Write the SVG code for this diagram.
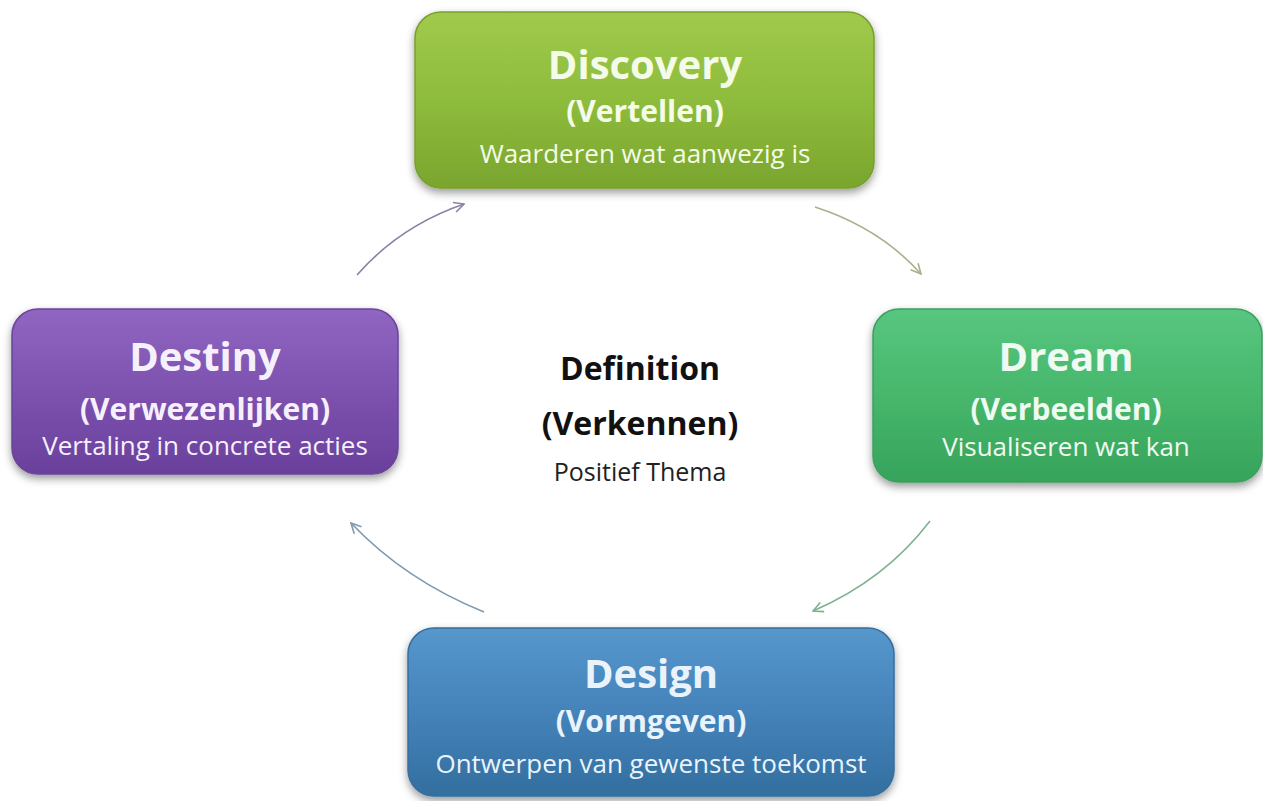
<svg xmlns="http://www.w3.org/2000/svg" width="1263" height="801" viewBox="0 0 1263 801">
<defs>
<linearGradient id="gGreen" x1="0" y1="0" x2="0" y2="1"><stop offset="0" stop-color="#a0ca4c"/><stop offset="0.5" stop-color="#8ebc3c"/><stop offset="1" stop-color="#7aa52e"/></linearGradient>
<linearGradient id="gDream" x1="0" y1="0" x2="0" y2="1"><stop offset="0" stop-color="#58c680"/><stop offset="0.5" stop-color="#47b76c"/><stop offset="1" stop-color="#36a35b"/></linearGradient>
<linearGradient id="gPurple" x1="0" y1="0" x2="0" y2="1"><stop offset="0" stop-color="#9066c2"/><stop offset="0.5" stop-color="#7d52af"/><stop offset="1" stop-color="#6a409c"/></linearGradient>
<linearGradient id="gBlue" x1="0" y1="0" x2="0" y2="1"><stop offset="0" stop-color="#5697cc"/><stop offset="0.5" stop-color="#4483ba"/><stop offset="1" stop-color="#336e9f"/></linearGradient>
<filter id="shadow" x="-10%" y="-10%" width="120%" height="130%"><feDropShadow dx="0" dy="4" stdDeviation="4" flood-color="#000" flood-opacity="0.4"/></filter>
<marker id="mPurple" viewBox="0 0 12 12" refX="11" refY="6" markerWidth="12" markerHeight="12" markerUnits="userSpaceOnUse" orient="auto"><path d="M1,1 L11,6 L1,11" fill="none" stroke="#8f80a8" stroke-width="1.6"/></marker>
<marker id="mOlive" viewBox="0 0 12 12" refX="11" refY="6" markerWidth="12" markerHeight="12" markerUnits="userSpaceOnUse" orient="auto"><path d="M1,1 L11,6 L1,11" fill="none" stroke="#a9b08a" stroke-width="1.6"/></marker>
<marker id="mGreen" viewBox="0 0 12 12" refX="11" refY="6" markerWidth="12" markerHeight="12" markerUnits="userSpaceOnUse" orient="auto"><path d="M1,1 L11,6 L1,11" fill="none" stroke="#7db38f" stroke-width="1.6"/></marker>
<marker id="mBlue" viewBox="0 0 12 12" refX="11" refY="6" markerWidth="12" markerHeight="12" markerUnits="userSpaceOnUse" orient="auto"><path d="M1,1 L11,6 L1,11" fill="none" stroke="#7f99ae" stroke-width="1.6"/></marker>
</defs>
<style>
.box{filter:url(#shadow);stroke-width:1.5}
.t1{font-family:"Open Sans","Liberation Sans",sans-serif;font-weight:700;font-size:40px;text-anchor:middle}
.t2{font-family:"Open Sans","Liberation Sans",sans-serif;font-weight:700;font-size:30px;text-anchor:middle}
.t3{font-family:"Open Sans","Liberation Sans",sans-serif;font-weight:400;font-size:26px;text-anchor:middle}
.c1{font-family:"Open Sans","Liberation Sans",sans-serif;font-weight:700;font-size:32px;text-anchor:middle;fill:#111}
.c3{font-family:"Open Sans","Liberation Sans",sans-serif;font-weight:400;font-size:25px;text-anchor:middle;fill:#222}
.conn{fill:none;stroke-width:1.6}
</style>
<rect width="1263" height="801" fill="#ffffff"/>
<g id="connectors">
<path class="conn" d="M357,275 Q400,226 464,204" stroke="#8f80a8" marker-end="url(#mPurple)"/>
<path class="conn" d="M815,207 Q880,228 921,274" stroke="#a9b08a" marker-end="url(#mOlive)"/>
<path class="conn" d="M930,521 Q885,580 813,611" stroke="#7db38f" marker-end="url(#mGreen)"/>
<path class="conn" d="M484,612 Q405,580 351,523" stroke="#7f99ae" marker-end="url(#mBlue)"/>
</g>
<g id="discovery">
<rect class="box" x="415" y="12" width="459" height="176" rx="26" fill="url(#gGreen)" stroke="#79a02f"/>
<text class="t1" x="645" y="79" fill="#f4fbe8">Discovery</text>
<text class="t2" x="645" y="122" fill="#f4fbe8">(Vertellen)</text>
<text class="t3" x="645" y="163" fill="#f4fbe8">Waarderen wat aanwezig is</text>
</g>
<g id="dream">
<rect class="box" x="873" y="309" width="389" height="173" rx="26" fill="url(#gDream)" stroke="#3d9f60"/>
<text class="t1" x="1066" y="371" fill="#eefaf2">Dream</text>
<text class="t2" x="1066" y="420" fill="#eefaf2">(Verbeelden)</text>
<text class="t3" x="1066" y="456" fill="#eefaf2">Visualiseren wat kan</text>
</g>
<g id="destiny">
<rect class="box" x="12" y="309" width="386" height="165" rx="26" fill="url(#gPurple)" stroke="#6a449a"/>
<text class="t1" x="205" y="371" fill="#f6f0fc">Destiny</text>
<text class="t2" x="205" y="420" fill="#f6f0fc">(Verwezenlijken)</text>
<text class="t3" x="205" y="455" fill="#f6f0fc">Vertaling in concrete acties</text>
</g>
<g id="design">
<rect class="box" x="408" y="628" width="486" height="168" rx="26" fill="url(#gBlue)" stroke="#356f9e"/>
<text class="t1" x="651" y="688" fill="#eaf3fb">Design</text>
<text class="t2" x="651" y="732" fill="#eaf3fb">(Vormgeven)</text>
<text class="t3" x="651" y="773" fill="#eaf3fb">Ontwerpen van gewenste toekomst</text>
</g>
<g id="definition">
<text class="c1" x="640" y="380">Definition</text>
<text class="c1" x="640" y="435">(Verkennen)</text>
<text class="c3" x="640" y="481">Positief Thema</text>
</g>
</svg>
